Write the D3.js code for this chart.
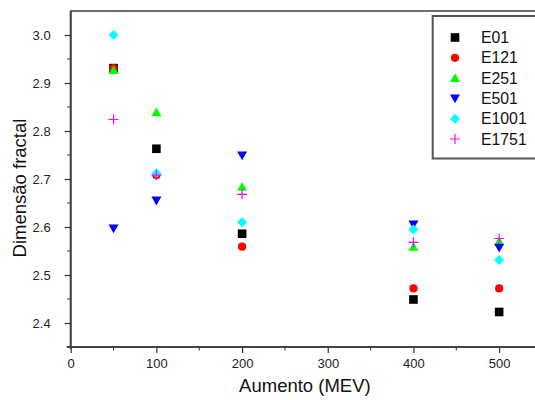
<!DOCTYPE html>
<html>
<head>
<meta charset="utf-8">
<script src="https://cdn.jsdelivr.net/npm/d3@7"></script>
<style>
  body { margin: 0; background: #fff; }
  svg { display: block; font-family: "Liberation Sans", Arial, sans-serif; }
</style>
</head>
<body>
<div id="chart"></div>
<script>

// values
const aumento = [50, 100, 200, 400, 500];
const seriesNames = ["E01", "E121", "E251", "E501", "E1001", "E1751"];
const e01 = [2.931, 2.763, 2.586, 2.449, 2.423];
const e121 = [2.931, 2.708, 2.559, 2.472, 2.472];
const e251 = [2.927, 2.839, 2.684, 2.559, 2.570];
const e501 = [2.597, 2.655, 2.749, 2.605, 2.557];
const e1001 = [3.000, 2.712, 2.610, 2.595, 2.531];
const e1751 = [2.824, 2.708, 2.668, 2.568, 2.576];
const xTicks = [0, 100, 200, 300, 400, 500];
const yTicks = [2.4, 2.5, 2.6, 2.7, 2.8, 2.9, 3.0];

const width = 535, height = 400;
const margin = {top: 11, right: -7, bottom: 53, left: 70.7};

const colors = ["#000000", "#ff0000", "#00ff00", "#0000ff", "#00ffff", "#ff00ff"];
const symbols = ["square", "circle", "up", "down", "diamond", "plus"];
const allSeries = [e01, e121, e251, e501, e1001, e1751];

const svg = d3.select("#chart")
  .append("svg")
  .attr("width", width)
  .attr("height", height);

const xScale = d3.scaleLinear()
  .domain([0, 550])
  .range([margin.left, width - margin.right]);

const yScale = d3.scaleLinear()
  .domain([2.35, 3.05])
  .range([height - margin.bottom, margin.top]);

// frame (right side falls outside the picture)
svg.append("rect")
  .attr("x", xScale(0))
  .attr("y", yScale(3.05))
  .attr("width", xScale(550) - xScale(0))
  .attr("height", yScale(2.35) - yScale(3.05))
  .attr("fill", "none")
  .attr("stroke", "#222")
  .attr("stroke-width", 1.3);

// x axis
const xAxis = svg.append("g")
  .attr("transform", `translate(0,${yScale(2.35)})`)
  .call(d3.axisBottom(xScale).tickValues(xTicks).tickSize(6).tickPadding(6).tickSizeOuter(0).tickFormat(d3.format("d")));
xAxis.append("g")
  .selectAll("line")
  .data([50, 150, 250, 350, 450])
  .enter()
  .append("line")
    .attr("x1", d => xScale(d)).attr("x2", d => xScale(d))
    .attr("y1", 0).attr("y2", 3.5)
    .attr("stroke", "#333");

// y axis
const yAxis = svg.append("g")
  .attr("transform", `translate(${xScale(0)},0)`)
  .call(d3.axisLeft(yScale).tickValues(yTicks).tickSize(6).tickPadding(14).tickSizeOuter(0).tickFormat(d3.format(".1f")));
yAxis.append("g")
  .selectAll("line")
  .data([2.45, 2.55, 2.65, 2.75, 2.85, 2.95])
  .enter()
  .append("line")
    .attr("y1", d => yScale(d)).attr("y2", d => yScale(d))
    .attr("x1", 0).attr("x2", -3.5)
    .attr("stroke", "#333");

[xAxis, yAxis].forEach(ax => {
  ax.select(".domain").attr("stroke", "#444").attr("stroke-width", 2);
  ax.selectAll(".tick line").attr("stroke", "#333").attr("stroke-width", 1.2);
  ax.selectAll("text").attr("font-size", "13px").attr("fill", "#222")
    .attr("font-family", "Liberation Sans, Arial, sans-serif");
});
yAxis.select(".domain").attr("d", `M0,${yScale(3.05)}V${yScale(2.35) + 2}`);
xAxis.select(".domain").attr("d", `M${xScale(0) - 4},0H${xScale(550)}`);

// axis titles
svg.append("text")
  .attr("x", (xScale(0) + xScale(500)) / 2 + 20)
  .attr("y", 392)
  .attr("text-anchor", "middle")
  .attr("font-size", "18.5px")
  .attr("fill", "#111")
  .text("Aumento (MEV)");

svg.append("text")
  .attr("transform", `translate(26,${(yScale(3.05) + yScale(2.35)) / 2 + 9}) rotate(-90)`)
  .attr("text-anchor", "middle")
  .attr("font-size", "18.5px")
  .attr("fill", "#111")
  .text("Dimensão fractal");

// marker drawing
function drawMarker(g, kind, color) {
  if (kind === "square") {
    g.append("rect").attr("x", -4.3).attr("y", -4.3).attr("width", 8.6).attr("height", 8.6).attr("fill", color);
  } else if (kind === "circle") {
    g.append("circle").attr("r", 4.1).attr("fill", color);
  } else if (kind === "up") {
    g.append("path").attr("d", "M0,-4.8L5,4L-5,4Z").attr("fill", color);
  } else if (kind === "down") {
    g.append("path").attr("d", "M0,4.8L5,-4L-5,-4Z").attr("fill", color);
  } else if (kind === "diamond") {
    g.append("path").attr("d", "M0,-5L5,0L0,5L-5,0Z").attr("fill", color);
  } else {
    g.append("path").attr("d", "M-5,0H5M0,-5V5").attr("stroke", color).attr("stroke-width", 1.2).attr("fill", "none");
  }
}

// plot the points
allSeries.forEach((vals, i) => {
  svg.append("g")
    .selectAll("g")
    .data(vals)
    .enter()
    .append("g")
      .attr("transform", (d, j) => `translate(${xScale(aumento[j])},${yScale(d)})`)
      .each(function() { drawMarker(d3.select(this), symbols[i], colors[i]); });
});

// legend
const legend = svg.append("g");
legend.append("rect")
  .attr("x", 432.7).attr("y", 16)
  .attr("width", 108).attr("height", 142.5)
  .attr("fill", "#fff")
  .attr("stroke", "#555")
  .attr("stroke-width", 2);

seriesNames.forEach((name, i) => {
  const row = legend.append("g").attr("transform", `translate(455,${37.5 + i * 20.3})`);
  drawMarker(row, symbols[i], colors[i]);
  row.append("text")
    .attr("x", 26).attr("y", 5.5)
    .attr("font-size", "15.8px")
    .attr("fill", "#111")
    .text(name);
});

</script>
</body>
</html>
